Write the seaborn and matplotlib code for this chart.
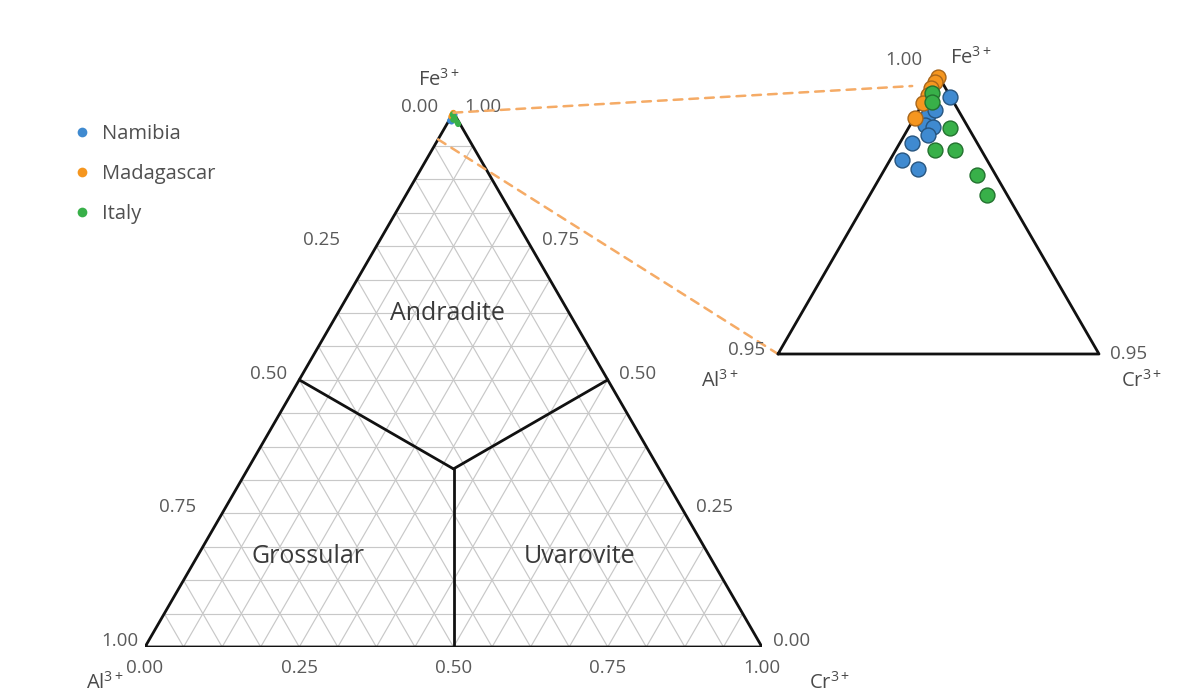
import numpy as np
import pandas as pd
import matplotlib
matplotlib.use("Agg")
import matplotlib.pyplot as plt
from matplotlib.lines import Line2D
from matplotlib.patches import ConnectionPatch
import seaborn as sns

# ---- garnet compositions (cation fractions of the octahedral site) ----
localities = ["Namibia", "Madagascar", "Italy"]

namibia_fe = [0.9963, 0.9930, 0.9912, 0.9909, 0.9894, 0.9880, 0.9849, 0.9833, 0.9939]
namibia_cr = [0.0036, 0.0019, 0.0023, 0.0037, 0.0037, 0.0018, 0.0018, 0.0052, 0.0025]

madagascar_fe = [0.9998, 0.9989, 0.9978, 0.9966, 0.9951, 0.9925]
madagascar_cr = [0.0000, 0.0000, 0.0000, 0.0000, 0.0000, 0.0001]

italy_fe = [0.9969, 0.9954, 0.9906, 0.9867, 0.9867, 0.9822, 0.9786]
italy_cr = [0.0005, 0.0013, 0.0065, 0.0061, 0.0092, 0.0149, 0.0182]

tick_values = [0.00, 0.25, 0.50, 0.75, 1.00]
tick_labels = ["0.00", "0.25", "0.50", "0.75", "1.00"]

zoom_fe_min = 0.95
field_names = ["Andradite", "Grossular", "Uvarovite"]
# label anchors as (Fe, Cr)
field_anchor_fe = [0.625, 0.1685, 0.1685]
field_anchor_cr = [0.177, 0.180, 0.6208]

colors = {"Namibia": "#3f8ad0", "Madagascar": "#f5961f", "Italy": "#38b049"}
edges = {"Namibia": "#27557f", "Madagascar": "#a8661a", "Italy": "#23722f"}
link_color = "#f5ab66"

S = np.sqrt(3) / 2


def tern_xy(fe, cr):
    fe = np.asarray(fe, dtype=float)
    cr = np.asarray(cr, dtype=float)
    return cr + fe / 2, fe * S


frames = []
for name, fe, cr in [("Namibia", namibia_fe, namibia_cr),
                     ("Madagascar", madagascar_fe, madagascar_cr),
                     ("Italy", italy_fe, italy_cr)]:
    x, y = tern_xy(fe, cr)
    frames.append(pd.DataFrame({"locality": name, "Fe": fe, "Cr": cr,
                                "Al": 1 - np.asarray(fe) - np.asarray(cr),
                                "x": x, "y": y}))
df = pd.concat(frames, ignore_index=True)

sns.set_theme(style="white")
plt.rcParams["font.family"] = ["Open Sans", "DejaVu Sans"]
plt.rcParams["mathtext.fontset"] = "custom"
plt.rcParams["mathtext.rm"] = "Open Sans"
plt.rcParams["mathtext.it"] = "Open Sans"

W, H = 1178, 698
fig = plt.figure(figsize=(W / 100, H / 100), dpi=100)
fig.patch.set_facecolor("white")

PX = 0.72  # points per pixel at 100 dpi
tick_color = "#5a5a5a"
label_color = "#4a4a4a"

# ---------------- main ternary diagram ----------------
side = 617
ax = fig.add_axes([145 / W, 51 / H, side / W, side * S / H])
ax.set_xlim(0, 1)
ax.set_ylim(0, S)
ax.axis("off")
ax.set_zorder(0)

# triangular grid, 16 divisions per edge
grid_kw = dict(color="#c8c8c8", lw=0.85, zorder=1)
for v in np.arange(1, 16) / 16:
    # constant Fe
    x, y = tern_xy([v, v], [0, 1 - v])
    ax.plot(x, y, **grid_kw)
    # constant Cr
    x, y = tern_xy([0, 1 - v], [v, v])
    ax.plot(x, y, **grid_kw)
    # constant Al (Al = 1 - v)
    x, y = tern_xy([0, v], [v, 0])
    ax.plot(x, y, **grid_kw)

# outline
x, y = tern_xy([0, 0, 1, 0], [0, 1, 0, 0])
ax.plot(x, y, color="#111111", lw=2.0, zorder=3, solid_joinstyle="miter")

# field boundaries from the centroid to edge midpoints
cx, cy = tern_xy(1 / 3, 1 / 3)
for fe, cr in [(0.5, 0.0), (0.5, 0.5), (0.0, 0.5)]:
    mx, my = tern_xy(fe, cr)
    ax.plot([cx, mx], [cy, my], color="#111111", lw=2.0, zorder=3)

for name, fe, cr in zip(field_names, field_anchor_fe, field_anchor_cr):
    tx, ty = tern_xy(fe, cr)
    ax.text(tx, ty, name, ha="center", va="center", fontsize=18,
            color="#3a3a3a", zorder=4)

# tick labels: bottom = Cr, right = Fe, left = Al
for v, lab in zip(tick_values, tick_labels):
    bx, by = tern_xy(0, v)
    ax.annotate(lab, (bx, by), xytext=(0, -21 * PX), textcoords="offset points",
                ha="center", va="center", fontsize=13.5, color=tick_color,
                annotation_clip=False)
    rx, ry = tern_xy(v, 1 - v)
    ax.annotate(lab, (rx, ry), xytext=(11 * PX, 6 * PX), textcoords="offset points",
                ha="left", va="center", fontsize=13.5, color=tick_color,
                annotation_clip=False)
left_pad_px = [15, 36, 12, 26, 7]
for v, lab, pad in zip(tick_values, tick_labels, left_pad_px):
    lx, ly = tern_xy(1 - v, 0)
    ax.annotate(lab, (lx, ly), xytext=(-pad * PX, 6 * PX), textcoords="offset points",
                ha="right", va="center", fontsize=13.5, color=tick_color,
                annotation_clip=False)

# vertex labels
for txt, (fe, cr), (dx, dy) in [("Fe$^{3+}$", (1, 0), (-15, 33)),
                                 ("Al$^{3+}$", (0, 0), (-40, -36)),
                                 ("Cr$^{3+}$", (0, 1), (68, -36))]:
    vx, vy = tern_xy(fe, cr)
    ax.annotate(txt, (vx, vy), xytext=(dx * PX, dy * PX), textcoords="offset points",
                ha="center", va="center", fontsize=14.5, color=label_color,
                annotation_clip=False)

sns.scatterplot(data=df, x="x", y="y", hue="locality", hue_order=localities,
                palette=colors, s=18, linewidth=0, legend=False, ax=ax,
                zorder=5, clip_on=False)

# ---------------- enlarged Fe-rich corner ----------------
iside = 321
ax2 = fig.add_axes([778 / W, 344 / H, iside / W, iside * S / H])
zx0, zy0 = tern_xy(zoom_fe_min, 0)
zx1, _ = tern_xy(zoom_fe_min, 1 - zoom_fe_min)
ax2.set_xlim(zx0, zx1)
ax2.set_ylim(zy0, S)
ax2.axis("off")
ax2.set_zorder(3)
ax2.patch.set_alpha(0)

x, y = tern_xy([zoom_fe_min, zoom_fe_min, 1, zoom_fe_min],
               [0, 1 - zoom_fe_min, 0, 0])
ax2.plot(x, y, color="#111111", lw=2.0, zorder=2, clip_on=False)

for name in localities:
    sub = df[df["locality"] == name]
    sns.scatterplot(data=sub, x="x", y="y", color=colors[name], s=115,
                    edgecolor=edges[name], linewidth=1.0, legend=False,
                    ax=ax2, zorder=5, clip_on=False)

zoom_label = f"{zoom_fe_min:.2f}"
for txt, (fe, cr), (dx, dy), ha in [("1.00", (1, 0), (-16, 16), "right"),
                                     ("Fe$^{3+}$", (1, 0), (12, 18), "left"),
                                     (zoom_label, (zoom_fe_min, 0), (-13, 4), "right"),
                                     (zoom_label, (zoom_fe_min, 1 - zoom_fe_min), (11, 0), "left")]:
    vx, vy = tern_xy(fe, cr)
    ax2.annotate(txt, (vx, vy), xytext=(dx * PX, dy * PX), textcoords="offset points",
                 ha=ha, va="center", fontsize=14.5 if "Fe" in txt else 13.5,
                 color=label_color if "Fe" in txt else tick_color,
                 annotation_clip=False)
for txt, (fe, cr), (dx, dy) in [("Al$^{3+}$", (zoom_fe_min, 0), (-58, -27)),
                                 ("Cr$^{3+}$", (zoom_fe_min, 1 - zoom_fe_min), (43, -27))]:
    vx, vy = tern_xy(fe, cr)
    ax2.annotate(txt, (vx, vy), xytext=(dx * PX, dy * PX), textcoords="offset points",
                 ha="center", va="center", fontsize=14.5, color=label_color,
                 annotation_clip=False)

# dashed links between the main corner and the enlargement
apex = tern_xy(1, 0)
corner = tern_xy(zoom_fe_min, 0)
link_end = tern_xy(0.9982, -0.0032)
for a_pt, b_pt in [(apex, link_end), (corner, corner)]:
    con = ConnectionPatch(xyA=a_pt, coordsA=ax.transData, xyB=b_pt,
                          coordsB=ax2.transData, color=link_color, lw=1.8,
                          linestyle=(0, (3.5, 2.8)))
    con.set_zorder(2)
    fig.add_artist(con)

# legend
handles = [Line2D([], [], linestyle="none", marker="o", markersize=7,
                  markerfacecolor=colors[n], markeredgewidth=0) for n in localities]
fig.legend(handles, localities, loc="upper left",
           bbox_to_anchor=(64 / W, 1 - 114 / H), frameon=False,
           fontsize=14.5, labelcolor="#505050", handlelength=0.8,
           handletextpad=0.6, labelspacing=1.0, borderpad=0)

fig.savefig("out.png", dpi=100, facecolor="white")
